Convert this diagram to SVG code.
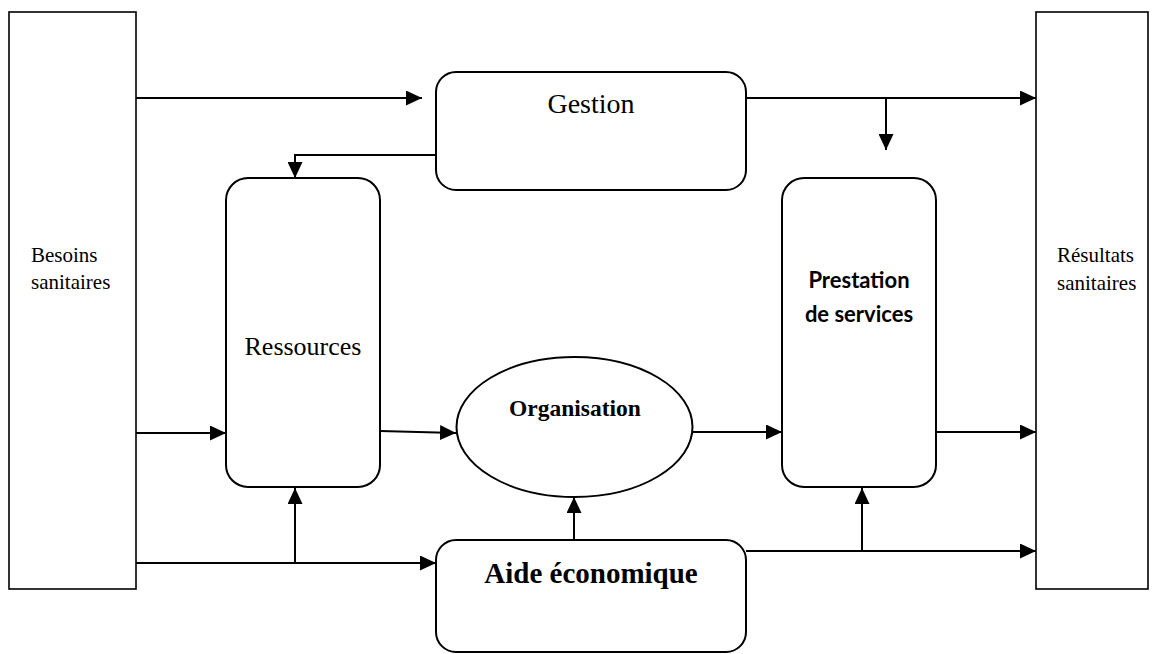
<svg xmlns="http://www.w3.org/2000/svg" width="1158" height="654" viewBox="0 0 1158 654">
  <style>
    .box { fill: #ffffff; stroke: #000000; stroke-width: 2; }
    .side { fill: #ffffff; stroke: #000000; stroke-width: 1.6; }
    .link { fill: none; stroke: #000000; stroke-width: 2; marker-end: url(#arrow); }
    .serif { font-family: "Liberation Serif", "Times New Roman", serif; fill: #000000; }
    .sans { font-family: Lato, "Liberation Sans", sans-serif; font-weight: bold; fill: #000000; }
  </style>
  <defs>
    <marker id="arrow" markerUnits="userSpaceOnUse" markerWidth="16" markerHeight="15" refX="16" refY="7.5" orient="auto">
      <path d="M0,0 L16,7.5 L0,15 z" fill="#000000"/>
    </marker>
  </defs>
  <rect width="1158" height="654" fill="#ffffff"/>

  <g id="besoins">
    <rect class="side" x="9" y="12" width="127" height="577"/>
    <text class="serif" font-size="21" x="31" y="262">Besoins</text>
    <text class="serif" font-size="21" x="31" y="289">sanitaires</text>
  </g>

  <g id="resultats">
    <rect class="side" x="1036" y="12" width="112" height="577"/>
    <text class="serif" font-size="21" x="1057" y="262">Résultats</text>
    <text class="serif" font-size="21" x="1057" y="290">sanitaires</text>
  </g>

  <g id="gestion">
    <rect class="box" x="436" y="72" width="310" height="118" rx="20" ry="20"/>
    <text class="serif" font-size="28" x="591" y="113" text-anchor="middle">Gestion</text>
  </g>

  <g id="ressources">
    <rect class="box" x="226" y="178" width="154" height="309" rx="22" ry="22"/>
    <text class="serif" font-size="26" x="303" y="355" text-anchor="middle">Ressources</text>
  </g>

  <g id="organisation">
    <ellipse class="box" cx="574.5" cy="427" rx="118" ry="70"/>
    <text class="serif" font-size="23.5" font-weight="bold" x="575" y="416" text-anchor="middle">Organisation</text>
  </g>

  <g id="prestation">
    <rect class="box" x="782" y="178" width="154" height="309" rx="22" ry="22"/>
    <text class="sans" font-size="22" x="859" y="288" text-anchor="middle">Prestation</text>
    <text class="sans" font-size="22" x="859" y="322" text-anchor="middle">de services</text>
  </g>

  <g id="aide">
    <rect class="box" x="436" y="540" width="310" height="112" rx="20" ry="20"/>
    <text class="serif" font-size="29" font-weight="bold" x="591" y="583" text-anchor="middle">Aide économique</text>
  </g>

  <g id="connectors">
    <path class="link" d="M136,98 H422"/>
    <path class="link" d="M436,155 H295 V178"/>
    <path class="link" d="M746,98 H1036"/>
    <path class="link" d="M886,98 V150"/>
    <path class="link" d="M136,433 H226"/>
    <path class="link" d="M380,431 L456,433"/>
    <path class="link" d="M693,432 H782"/>
    <path class="link" d="M936,432 H1036"/>
    <path class="link" d="M136,563 H436"/>
    <path class="link" d="M295,563 V488"/>
    <path class="link" d="M574,540 V497"/>
    <path class="link" d="M746,551 H1036"/>
    <path class="link" d="M862,551 V488"/>
  </g>
</svg>
